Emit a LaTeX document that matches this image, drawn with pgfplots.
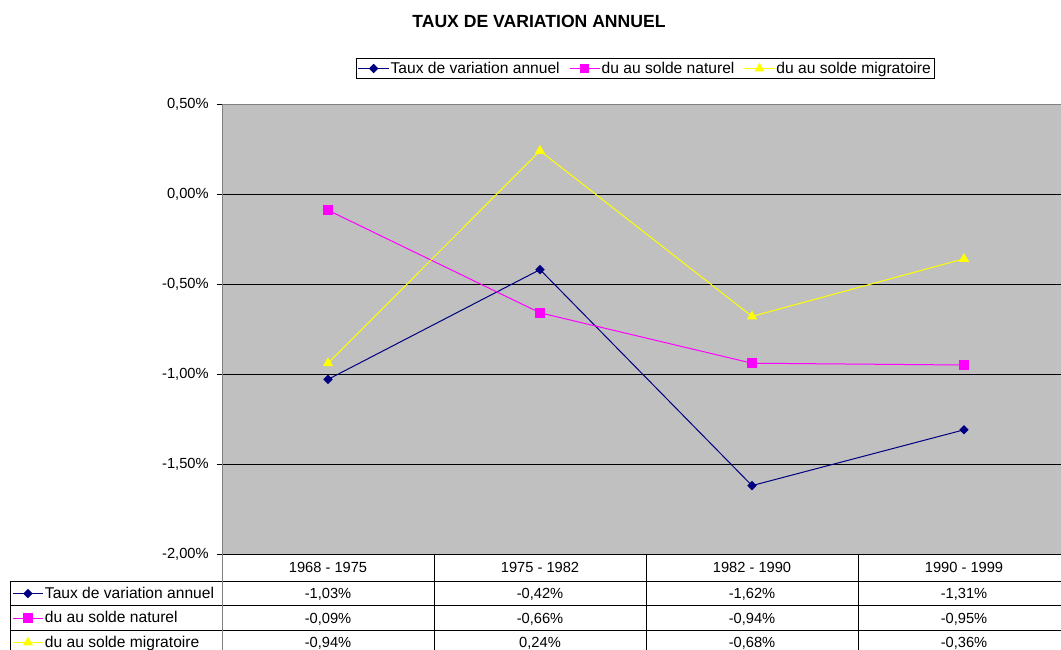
\documentclass[border=0pt]{standalone}
\usepackage{pgfplots}
\pgfplotsset{compat=1.18}
\usepackage{fontspec}
\setmainfont{Liberation Sans}

\definecolor{serieA}{RGB}{0,0,128}
\definecolor{serieB}{RGB}{255,0,255}
\definecolor{serieC}{RGB}{255,255,0}
\definecolor{fond}{RGB}{192,192,192}
\definecolor{cadre}{RGB}{128,128,128}

\newcommand{\txt}{\fontsize{11.7}{14}\selectfont}
\newcommand{\tck}{\fontsize{11}{13}\selectfont}

\pgfplotsset{
  keyimg/.style={legend image code/.code={%
    \draw[mark repeat=2,mark phase=2,##1] plot coordinates {(0cm,0cm) (0.4cm,0cm) (0.8cm,0cm)};}},
  sA/.style={serieA, line width=0.75pt, mark=square*, mark size=2.1pt, mark options={solid, fill=serieA, rotate=45}},
  sB/.style={serieB, line width=0.75pt, mark=square*, mark size=3.2pt, mark options={solid, fill=serieB}},
  sC/.style={serieC, line width=0.75pt, mark=triangle*, mark size=3.7pt, mark options={solid, fill=serieC}},
}

\begin{document}
\begin{tikzpicture}
  % 1 px = 0.75pt, origin at top left
  \path[use as bounding box] (0pt,0pt) rectangle (795.75pt,-487.5pt);

  \begin{axis}[
      at={(166.5pt,-415.5pt)}, anchor=south west,
      scale only axis, width=629.25pt, height=337.5pt,
      xmin=-0.5, xmax=3.4575,
      ymin=-2, ymax=0.5,
      xtick=\empty,
      ytick={-2,-1.5,-1,-0.5,0,0.5},
      yticklabel={\pgfmathprintnumber[fixed,fixed zerofill,precision=2,use comma,assume math mode=true]{\tick}\%},
      yticklabel style={font=\tck, xshift=-2.5pt},
      tick align=outside, major tick length=4pt,
      ytick style={black, line width=0.6pt},
      axis background/.style={fill=fond},
      axis line style={cadre, line width=0.75pt},
      ymajorgrids, grid style={black, line width=0.6pt},
      legend style={at={(0.5042,1.0789)}, anchor=center, draw=black, fill=white,
        font=\txt, legend columns=3, inner sep=1.5pt, nodes={inner sep=1pt},
        /tikz/every even column/.append style={column sep=6pt}},
      legend cell align=left,
    ]
    \addplot[sA, keyimg] coordinates {(0,-1.03) (1,-0.42) (2,-1.62) (3,-1.31)};
    \addlegendentry{Taux de variation annuel}
    \addplot[sB, keyimg] coordinates {(0,-0.09) (1,-0.66) (2,-0.94) (3,-0.95)};
    \addlegendentry{du au solde naturel}
    \addplot[sC, keyimg] coordinates {(0,-0.94) (1,0.24) (2,-0.68) (3,-0.36)};
    \addlegendentry{du au solde migratoire}
  \end{axis}

  % row keys of the data table
  \begin{axis}[
      at={(166.5pt,-415.5pt)}, anchor=south west,
      scale only axis, width=629.25pt, height=337.5pt,
      hide axis, xmin=0, xmax=1, ymin=0, ymax=1,
      legend style={at={(-0.2503,-0.06)}, anchor=north west, draw=none, fill=none,
        font=\txt, inner sep=0pt, row sep=0pt,
        nodes={inner sep=1pt, minimum height=18.375pt}},
      legend cell align=left,
    ]
    \addlegendimage{sA, keyimg}
    \addlegendentry{Taux de variation annuel}
    \addlegendimage{sB, keyimg}
    \addlegendentry{du au solde naturel}
    \addlegendimage{sC, keyimg}
    \addlegendentry{du au solde migratoire}
  \end{axis}

  \begin{scope}[x=0.75pt, y=-0.75pt]
    \node[font=\fontsize{13.2}{15}\selectfont\bfseries] at (539,21) {TAUX DE VARIATION ANNUEL};

    % table grid
    \draw[black, line width=0.75pt] (222,554) -- (1061,554);
    \draw[black, line width=0.75pt] (10,581) -- (1061,581)
      (10,605.5) -- (1061,605.5)
      (10,630) -- (1061,630)
      (10,581) -- (10,650)
      (434,554) -- (434,650)
      (646,554) -- (646,650)
      (858,554) -- (858,650);
    \draw[cadre, line width=0.75pt] (222,554) -- (222,650);

    % table text
    \begin{scope}[every node/.style={font=\tck, anchor=center}]
      \node at (328,567.5) {1968 - 1975};
      \node at (540,567.5) {1975 - 1982};
      \node at (752,567.5) {1982 - 1990};
      \node at (964,567.5) {1990 - 1999};

      \node at (328,594.5) {-1,03\%};
      \node at (540,594.5) {-0,42\%};
      \node at (752,594.5) {-1,62\%};
      \node at (964,594.5) {-1,31\%};

      \node at (328,619) {-0,09\%};
      \node at (540,619) {-0,66\%};
      \node at (752,619) {-0,94\%};
      \node at (964,619) {-0,95\%};

      \node at (328,643) {-0,94\%};
      \node at (540,643) {0,24\%};
      \node at (752,643) {-0,68\%};
      \node at (964,643) {-0,36\%};
    \end{scope}
  \end{scope}
\end{tikzpicture}
\end{document}
